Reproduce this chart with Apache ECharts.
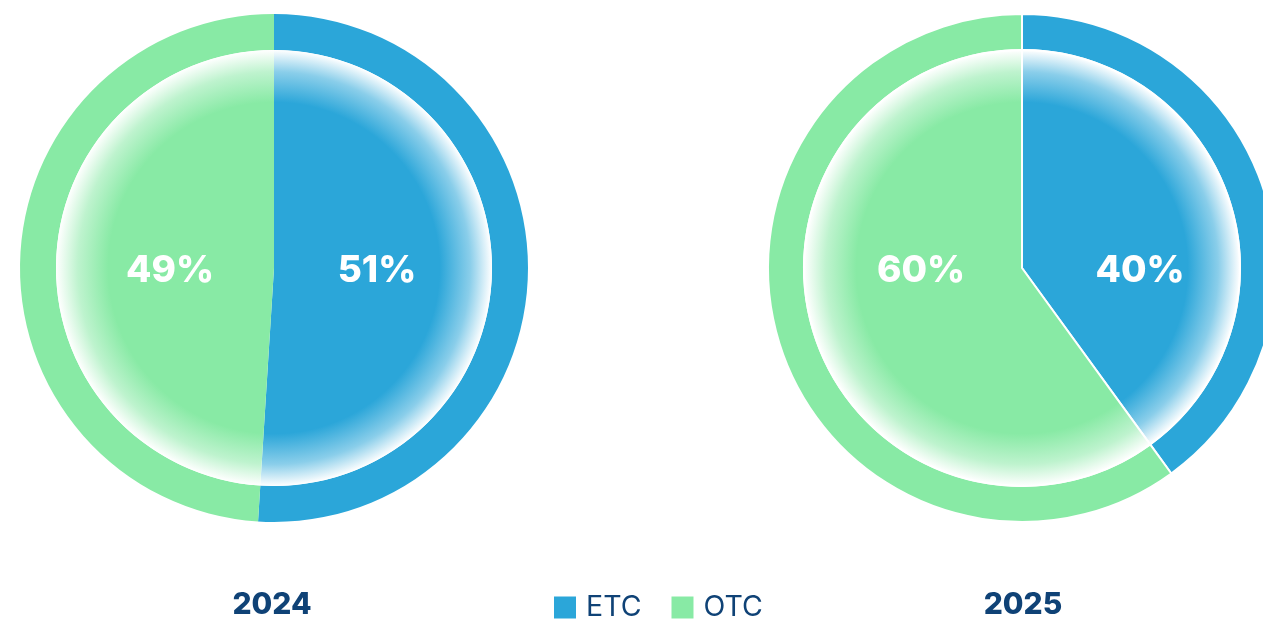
<!DOCTYPE html>
<html>
<head>
<meta charset="utf-8">
<script src="https://cdn.jsdelivr.net/npm/echarts@6/dist/echarts.min.js"></script>
<style>
html,body{margin:0;padding:0;background:#fff;}
#main{width:1263px;height:620px;}
</style>
</head>
<body>
<div id="main"></div>
<script>
const categories = ['ETC', 'OTC'];
const years = ['2024', '2025'];
const values2024 = [51, 49];
const values2025 = [40, 60];

const COLORS = { ETC: '#2BA6D9', OTC: '#88EAA5' };
const NAVY = '#0F4276';

const chart = echarts.init(document.getElementById('main'), null, { renderer: 'canvas' });

const pies = [
  { year: years[0], values: values2024, center: [274, 268], titleX: 272, border: 0, labelDx: [103, -104] },
  { year: years[1], values: values2025, center: [1022, 268], titleX: 1023, border: 2, labelDx: [118, -101] }
];
const R_OUT = 254, R_IN = 218;

function radial(color, c) {
  return {
    type: 'radial', x: c[0], y: c[1], r: R_IN, global: true,
    colorStops: [
      { offset: 0, color: color },
      { offset: 0.76, color: color },
      { offset: 0.9, color: echarts.color.lerp(0.45, [color, '#ffffff']) },
      { offset: 1, color: '#ffffff' }
    ]
  };
}

const series = [];
pies.forEach((p, pi) => {
  series.push({
    type: 'pie', name: p.year + ' ring', center: p.center, radius: [R_IN, R_OUT],
    startAngle: 90, clockwise: true, silent: true, animation: false,
    label: { show: false }, labelLine: { show: false },
    itemStyle: { borderColor: '#fff', borderWidth: p.border },
    data: categories.map((c, i) => ({ name: c, value: p.values[i], itemStyle: { color: COLORS[c] } }))
  });
  series.push({
    type: 'pie', name: p.year, center: p.center, radius: [0, R_IN],
    startAngle: 90, clockwise: true, silent: true, animation: false,
    itemStyle: { borderColor: '#fff', borderWidth: p.border },
    label: {
      show: true, position: 'inside', formatter: '{c}%',
      color: '#fff', fontFamily: 'Inter', fontWeight: 800, fontSize: 37
    },
    labelLine: { show: false },
    labelLayout: function (params) {
      return { x: p.center[0] + p.labelDx[params.dataIndex], y: p.center[1] + 3, align: 'center', verticalAlign: 'middle' };
    },
    data: categories.map((c, i) => ({ name: c, value: p.values[i], itemStyle: { color: radial(COLORS[c], p.center) } }))
  });
});

chart.setOption({
  backgroundColor: '#fff',
  animation: false,
  title: pies.map(p => ({
    text: p.year, left: p.titleX, top: 590, textAlign: 'center', padding: 0,
    textStyle: { fontFamily: 'Inter', fontWeight: 800, fontSize: 30, color: NAVY }
  })),
  legend: {
    data: categories.map(c => ({ name: c, itemStyle: { color: COLORS[c] } })),
    left: 554, top: 593, padding: 0, icon: 'rect', itemWidth: 22, itemHeight: 22, itemGap: 30,
    textStyle: { fontFamily: 'Inter', fontSize: 28.5, color: NAVY, padding: [0, 0, 0, 5] },
    selectedMode: false
  },
  series: series
});
</script>
</body>
</html>
